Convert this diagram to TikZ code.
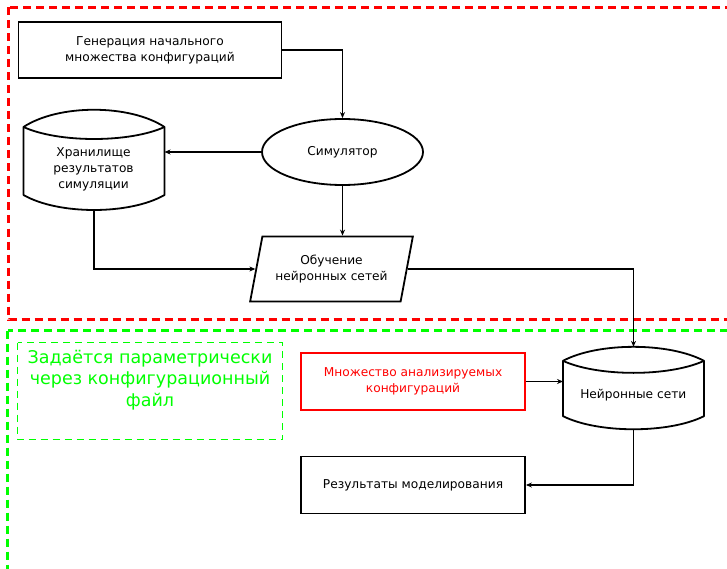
\documentclass[tikz,border=0pt]{standalone}
\usepackage{fontspec}
\setmainfont{DejaVu Sans}
\usetikzlibrary{shapes.geometric,arrows.meta,calc}

\definecolor{frameRed}{RGB}{255,0,0}
\definecolor{frameGreen}{RGB}{0,255,0}

\begin{document}
\begin{tikzpicture}[x=1pt,y=-1pt,
  txt/.style={font=\fontsize{12.2}{16}\selectfont, align=center, inner sep=0pt},
  box/.style={draw, line width=1.8pt, inner sep=0pt},
  ghost/.style={inner sep=0pt, outer sep=0pt},
  outline/.style={line width=1.8pt, line join=round},
  link/.style={line width=1.5pt, -{Stealth[length=6pt,width=5pt]}},
  zone/.style={line width=2.7pt, dash pattern=on 8pt off 5pt},
]
\useasboundingbox (0,0) rectangle (727,569);
\clip (0,0) rectangle (727,569);

% zones
\draw[zone, frameRed] (8.5,7.5) rectangle (780,319.5);
\draw[zone, frameGreen] (7.5,330.5) rectangle (780,620);
\draw[frameGreen, line width=1.2pt, dash pattern=on 7pt off 5pt]
  (17.5,342.5) rectangle (282.5,439.5);
\node[ghost, text=frameGreen, align=center,
      font=\fontsize{17.5}{21.7}\selectfont] (note) at (150,380)
  {Задаётся параметрически\\через конфигурационный\\файл};

% generation of the initial set
\node[box, txt, minimum width=263pt, minimum height=56pt] (gen) at (150,50)
  {Генерация начального\\множества конфигураций};

% simulator
\node[box, txt, ellipse, minimum width=161pt, minimum height=66pt] (sim) at (342.5,152)
  {Симулятор};

% storage of simulation results
\node[ghost, minimum width=141pt, minimum height=68pt] (store) at (94,161) {};
\node[txt] (storetext) at (93.5,169) {Хранилище\\результатов\\симуляции};
\draw[outline]
  (store.north west) .. controls +(35,-23) and +(-35,-23) .. (store.north east)
  -- (store.south east) .. controls +(-35,20) and +(35,20) .. (store.south west)
  -- cycle;
\draw[outline]
  (store.north west) .. controls +(35,16) and +(-35,16) .. (store.north east);
\coordinate (storebottom) at ($(store.south)+(0,15)$);

% training
\node[box, txt, trapezium, trapezium left angle=70.5, trapezium right angle=109.5,
      trapezium stretches=true, minimum width=163pt, minimum height=65pt]
  (train) at (331.5,269) {Обучение\\нейронных сетей};

% neural networks
\node[ghost, minimum width=141pt, minimum height=55.3pt] (nn) at (633.5,388.5) {};
\node[txt] (nntext) at (633.3,395) {Нейронные сети};
\draw[outline]
  (nn.north west) .. controls +(35,-18.7) and +(-35,-18.7) .. (nn.north east)
  -- (nn.south east) .. controls +(-35,17.5) and +(35,17.5) .. (nn.south west)
  -- cycle;
\draw[outline]
  (nn.north west) .. controls +(35,16) and +(-35,16) .. (nn.north east);
\coordinate (nntop) at ($(nn.north)+(0,-14)$);
\coordinate (nnbottom) at ($(nn.south)+(0,13)$);

% analysed configurations and results
\node[box, txt, draw=frameRed, text=frameRed, minimum width=224pt, minimum height=57pt]
  (cfg) at (413,381.5) {Множество анализируемых\\конфигураций};
\node[box, txt, minimum width=224pt, minimum height=57pt]
  (res) at (413,485) {Результаты моделирования};

% connectors
\draw[link] (gen.east) -| (sim.north);
\draw[link] (sim.west) -- (sim.west -| store.east);
\draw[link] (sim.south) -- (sim.south |- train.north);
\draw[link] (storebottom) |- (train.west);
\draw[link] (train.east) -| (nntop);
\draw[link] (cfg.east) -- (cfg.east -| nn.west);
\draw[link] (nnbottom) |- (res.east);
\end{tikzpicture}
\end{document}
